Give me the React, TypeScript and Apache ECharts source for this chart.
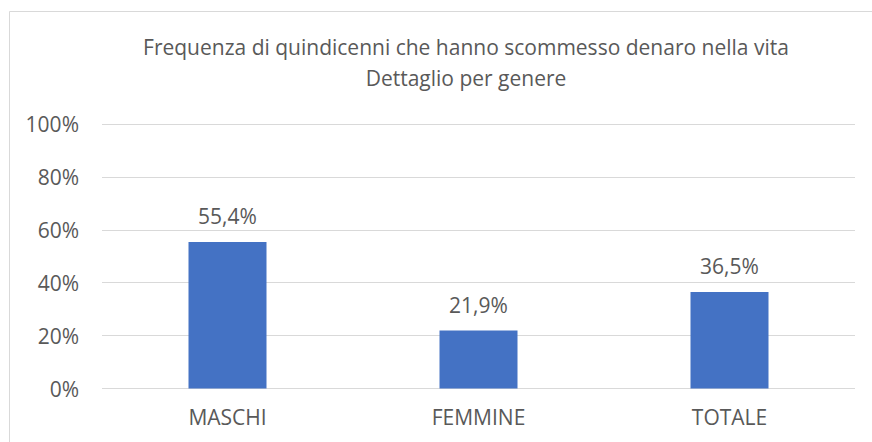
import React, { useEffect, useRef } from "react";
import * as echarts from "echarts";

const categories = ["MASCHI", "FEMMINE", "TOTALE"];
const values = [55.4, 21.9, 36.5];
const titleLines = [
  "Frequenza di quindicenni che hanno scommesso denaro nella vita",
  "Dettaglio per genere",
];

const FONT = "'Open Sans', 'Noto Sans', sans-serif";
const TEXT = "#595959";

export default function App() {
  const ref = useRef<HTMLDivElement>(null);
  useEffect(() => {
    if (!ref.current) return;
    const chart = echarts.init(ref.current, null, { renderer: "svg" });
    chart.setOption({
      animation: false,
      backgroundColor: "#ffffff",
      graphic: [
        {
          type: "rect",
          shape: { x: 9.5, y: 11.5, width: 880, height: 450 },
          style: { fill: "none", stroke: "#d9d9d9", lineWidth: 1 },
          silent: true,
        },
        ...titleLines.map((t, i) => ({
          type: "text",
          x: 466,
          y: 47 + i * 31,
          style: {
            text: t,
            fontFamily: FONT,
            fontSize: 21,
            fill: TEXT,
            align: "center",
            verticalAlign: "middle",
          },
          silent: true,
        })),
      ],
      grid: { left: 102, right: 17, top: 124, bottom: 53.5 },
      xAxis: {
        type: "category",
        data: categories,
        axisLine: { show: false },
        axisTick: { show: false },
        axisLabel: {
          fontFamily: FONT,
          fontSize: 21,
          color: TEXT,
          margin: 18,
        },
      },
      yAxis: {
        type: "value",
        min: 0,
        max: 100,
        interval: 20,
        axisLine: { show: false },
        axisTick: { show: false },
        splitLine: { lineStyle: { color: "#d9d9d9", width: 1 } },
        axisLabel: {
          fontFamily: FONT,
          fontSize: 21,
          color: TEXT,
          margin: 23,
          formatter: (v: number) => `${v}%`,
        },
      },
      series: [
        {
          type: "bar",
          data: values,
          barWidth: 78,
          itemStyle: { color: "#4472c4" },
          label: {
            show: true,
            position: "top",
            distance: 15,
            fontFamily: FONT,
            fontSize: 21,
            color: TEXT,
            formatter: (p: any) => `${String(p.value.toFixed(1)).replace(".", ",")}%`,
          },
        },
      ],
    });
    return () => chart.dispose();
  }, []);
  return (
    <div
      ref={ref}
      style={{ position: "absolute", left: 0, top: 0, width: 872, height: 442 }}
    />
  );
}
